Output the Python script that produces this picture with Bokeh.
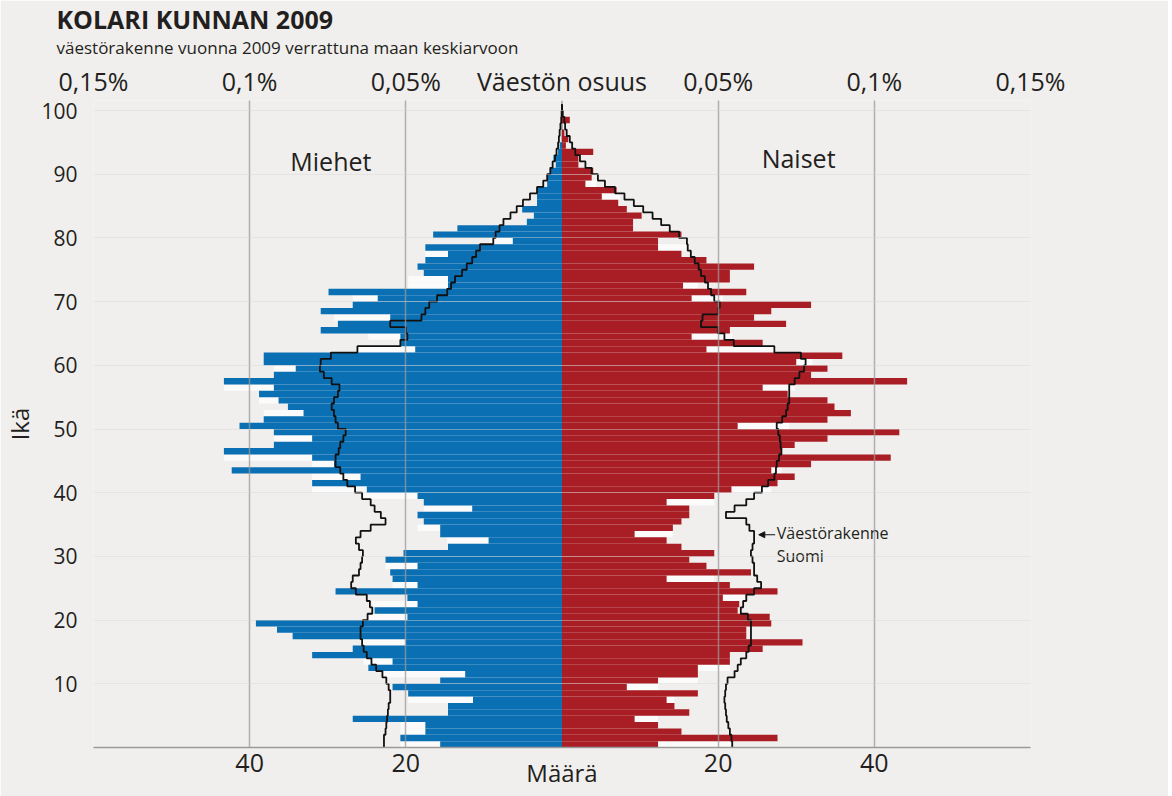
from bokeh.plotting import figure
from bokeh.models import FixedTicker, LinearAxis, Label, Arrow, NormalHead, Range1d, Title
from bokeh.embed import file_html
from bokeh.resources import INLINE

ika = list(range(101))

miehet = [15.6, 20.7, 17.5, 17.5, 26.8, 14.6, 14.6, 11.4, 19.7, 21.7,
          15.6, 12.4, 24.8, 21.7, 32.0, 26.8, 20.0, 34.5, 36.5, 39.2,
          19.8, 24.0, 18.5, 19.8, 29.0, 18.5, 21.7, 22.0, 18.5, 22.6,
          20.3, 14.6, 9.4, 15.6, 15.6, 17.7, 18.5, 11.5, 17.7, 18.5,
          25.0, 32.0, 25.8, 42.3, 29.2, 32.0, 43.3, 36.9, 32.0, 36.9,
          41.3, 38.2, 33.1, 35.1, 36.3, 38.8, 36.9, 43.3, 36.9, 34.1,
          38.2, 38.2, 18.8, 20.7, 20.7, 30.9, 28.7, 22.0, 30.9, 26.8,
          23.6, 29.9, 14.6, 14.6, 17.7, 18.5, 17.5, 14.6, 17.5, 6.3,
          16.5, 13.4, 4.5, 3.6, 5.1, 3.2, 3.2, 3.2, 1.9, 1.9,
          1.5, 0.8, 1.1, 0.5, 0.3, 0.0, 0.0, 0.0, 0.0, 0.0, 0.0]

naiset = [12.3, 27.6, 15.3, 12.3, 9.3, 16.3, 14.4, 13.4, 17.4, 8.3,
          12.3, 17.4, 17.4, 21.5, 21.5, 25.7, 30.8, 23.6, 23.6, 26.8,
          26.6, 22.5, 22.7, 20.6, 27.6, 21.5, 13.4, 24.2, 18.5, 16.3,
          19.5, 15.3, 13.4, 9.3, 14.2, 15.3, 16.3, 16.3, 13.4, 19.5,
          21.7, 27.6, 29.8, 26.8, 31.9, 42.1, 28.1, 29.8, 34.0, 43.2,
          22.5, 34.0, 37.0, 34.9, 34.0, 28.9, 25.7, 44.2, 31.9, 34.0,
          30.0, 35.9, 18.5, 25.7, 16.6, 21.5, 28.7, 24.6, 26.8, 31.9,
          16.6, 23.6, 15.5, 21.5, 21.5, 24.6, 18.5, 15.3, 12.3, 12.3,
          15.3, 9.1, 9.1, 10.2, 8.3, 7.2, 5.1, 7.0, 3.0, 3.8,
          4.0, 2.1, 2.1, 4.0, 0.5, 0.8, 0.3, 0.0, 1.0, 0.0, 0.0]

# vaaleat (valkoiset) palkit varsinaisten palkkien takana
miehet_vaalea = [20.7, 0, 20.7, 20.7, 0, 0, 0, 19.7, 0, 0,
                 0, 22.8, 0, 25.4, 0, 0, 25.8, 0, 0, 0,
                 25.0, 0, 24.3, 0, 0, 21.7, 0, 0, 22.6, 0,
                 0, 0, 14.7, 0, 18.5, 0, 0, 17.7, 0, 25.4,
                 32.0, 0, 32.0, 0, 32.0, 43.3, 0, 0, 36.9, 0,
                 0, 0, 38.2, 0, 38.8, 0, 43.3, 0, 0, 36.9,
                 0, 0, 26.2, 0, 24.8, 0, 0, 29.2, 0, 0,
                 26.8, 0, 19.7, 19.7, 0, 0, 0, 17.5, 0, 9.2,
                 0, 0, 0, 0, 0, 0, 0, 0, 0, 0,
                 0, 0, 0, 0, 0, 0, 0, 0, 0, 0, 0]

naiset_vaalea = [21.7, 0, 0, 0, 12.3, 0, 0, 14.4, 0, 12.3,
                 17.4, 0, 21.5, 0, 0, 0, 0, 0, 0, 0,
                 0, 0, 0, 23.4, 0, 0, 19.5, 0, 0, 0,
                 0, 0, 0, 14.2, 0, 0, 0, 0, 19.5, 0,
                 26.8, 0, 0, 28.1, 0, 0, 0, 0, 0, 0,
                 29.1, 0, 0, 0, 0, 0, 29.8, 0, 0, 0,
                 32.1, 0, 27.4, 0, 21.8, 0, 0, 0, 0, 0,
                 20.6, 0, 17.4, 0, 0, 0, 0, 0, 16.1, 0,
                 0, 0, 0, 0, 0, 0, 7.4, 0, 4.4, 0,
                 0, 0, 0, 0, 0, 0, 0, 0, 0, 0, 0]

suomi_miehet = [22.8, 22.8, 22.6, 22.5, 22.4, 22.3, 22.2, 22.0, 22.0, 22.2,
                22.5, 23.0, 23.8, 24.4, 25.0, 25.4, 25.6, 25.8, 25.8, 25.5,
                24.9, 24.3, 24.6, 25.0, 26.4, 27.0, 26.8, 26.0, 25.8, 25.6,
                25.5, 26.0, 26.4, 25.8, 24.5, 22.6, 23.2, 24.0, 24.5, 25.6,
                26.5, 27.5, 28.0, 28.4, 29.0, 29.0, 28.6, 28.4, 28.0, 27.7,
                28.7, 29.0, 29.2, 29.5, 29.2, 28.7, 28.5, 29.5, 30.5, 31.0,
                30.9, 29.6, 26.2, 20.7, 19.8, 20.0, 22.0, 18.0, 17.5, 17.0,
                16.0, 14.7, 14.2, 13.7, 12.8, 12.2, 11.5, 11.0, 10.5, 8.8,
                8.5, 8.0, 7.5, 6.6, 5.8, 5.0, 4.1, 3.2, 2.4, 1.9,
                1.5, 1.2, 0.9, 0.7, 0.5, 0.4, 0.3, 0.2, 0.1, 0.05, 0.0]

suomi_naiset = [21.8, 21.7, 21.5, 21.3, 21.1, 21.0, 20.9, 20.8, 20.9, 21.0,
                21.2, 22.1, 22.5, 22.9, 23.6, 23.9, 24.2, 24.2, 24.2, 24.2,
                23.8, 22.9, 23.2, 23.6, 24.6, 25.5, 25.0, 24.6, 24.6, 24.4,
                24.2, 24.4, 24.6, 24.6, 24.0, 23.6, 21.0, 22.1, 23.6, 24.6,
                25.6, 26.4, 27.2, 27.4, 27.5, 27.8, 28.1, 28.0, 27.9, 27.7,
                27.5, 28.2, 28.7, 28.9, 29.1, 29.1, 29.1, 29.8, 30.4, 31.0,
                31.2, 30.6, 27.2, 22.0, 20.8, 20.0, 17.8, 18.0, 20.0, 20.2,
                19.5, 19.1, 18.7, 18.3, 17.8, 17.5, 17.0, 16.5, 16.1, 16.0,
                15.0, 13.8, 12.7, 11.6, 10.4, 9.2, 8.0, 6.8, 5.5, 4.6,
                3.8, 3.0, 2.3, 1.7, 1.3, 1.0, 0.6, 0.4, 0.3, 0.1, 0.0]

ala_tikit = [-40, -20, 20, 40]
ala_nimet = ["40", "20", "20", "40"]
yla_tikit = [-60, -40, -20, 0, 20, 40, 60]
yla_nimet = ["0,15%", "0,1%", "0,05%", "Väestön osuus", "0,05%", "0,1%", "0,15%"]
ika_tikit = [10, 20, 30, 40, 50, 60, 70, 80, 90, 100]

SININEN = "#0b6fb4"
PUNAINEN = "#a91e24"
TAUSTA = "#f1efed"
VALKO = "#fbfbfb"
FONT = "Open Sans"
TEKSTI = "#231f20"

p = figure(width=1168, height=796, x_range=Range1d(-60, 60), y_range=Range1d(0, 101.57),
           output_backend="svg", toolbar_location=None,
           min_border_left=92, min_border_right=138, min_border_top=100, min_border_bottom=49,
           background_fill_color=TAUSTA, border_fill_color=TAUSTA)
p.outline_line_color = None

keski = [a + 0.5 for a in ika]

# keskiviiva
p.segment(x0=[0], y0=[0], x1=[0], y1=[101.57], line_color="#a0a0a0", line_width=1.5)

# vaaleat palkit
p.hbar(y=keski, height=1.0, left=[-v for v in miehet_vaalea], right=0, fill_color=VALKO, line_color=None)
p.hbar(y=keski, height=1.0, left=0, right=naiset_vaalea, fill_color=VALKO, line_color=None)

# palkit
p.hbar(y=keski, height=1.0, left=[-v for v in miehet], right=0, fill_color=SININEN, line_color=None)
p.hbar(y=keski, height=1.0, left=0, right=naiset, fill_color=PUNAINEN, line_color=None)


def porras(arvot, etumerkki):
    xs, ys = [], []
    for a, v in zip(ika, arvot):
        xs += [etumerkki * v, etumerkki * v]
        ys += [a, a + 1]
    return xs, ys


mx, my = porras(suomi_miehet, -1)
nx, ny = porras(suomi_naiset, 1)
p.line(mx, my, line_color="#111111", line_width=1.8)
p.line(nx, ny, line_color="#111111", line_width=1.8)

# ruudukko
p.xgrid.ticker = FixedTicker(ticks=[-60, -40, -20, 20, 40, 60])
p.xgrid.grid_line_color = "#9a9a9a"
p.xgrid.grid_line_width = 1.5
p.xgrid.grid_line_alpha = 0.75
p.xgrid.level = "overlay"
p.ygrid.ticker = FixedTicker(ticks=ika_tikit)
p.ygrid.grid_line_color = "#d8d8d8"
p.ygrid.grid_line_alpha = 0.45
p.ygrid.level = "overlay"

# alempi akseli
xa = p.xaxis[0]
xa.ticker = FixedTicker(ticks=ala_tikit)
xa.major_label_overrides = {t: s for t, s in zip(ala_tikit, ala_nimet)}
xa.major_label_text_font = FONT
xa.major_label_text_font_size = "25px"
xa.major_label_text_color = TEKSTI
xa.major_label_standoff = 6
xa.major_tick_line_color = None
xa.major_tick_out = 0
xa.major_tick_in = 0
xa.minor_tick_line_color = None
xa.minor_tick_out = 0
xa.axis_line_color = "#9a9a9a"
xa.axis_line_width = 1.5
xa.axis_label = "\nMäärä"
xa.axis_label_text_font = FONT
xa.axis_label_text_font_size = "24px"
xa.axis_label_text_font_style = "normal"
xa.axis_label_text_color = TEKSTI
xa.axis_label_standoff = -58

# vasen akseli
ya = p.yaxis[0]
ya.ticker = FixedTicker(ticks=ika_tikit)
ya.major_label_text_font = FONT
ya.major_label_text_font_size = "21px"
ya.major_label_text_color = TEKSTI
ya.major_label_standoff = 16
ya.major_tick_line_color = None
ya.major_tick_out = 0
ya.major_tick_in = 0
ya.minor_tick_line_color = None
ya.minor_tick_out = 0
ya.axis_line_color = None
ya.axis_label = "Ikä"
ya.axis_label_text_font = FONT
ya.axis_label_text_font_size = "24px"
ya.axis_label_text_font_style = "normal"
ya.axis_label_text_color = TEKSTI
ya.axis_label_standoff = 2

# ylempi akseli
ta = LinearAxis(ticker=FixedTicker(ticks=yla_tikit),
                major_label_overrides={t: s for t, s in zip(yla_tikit, yla_nimet)})
ta.major_label_text_font = FONT
ta.major_label_text_font_size = "25px"
ta.major_label_text_color = TEKSTI
ta.major_label_standoff = 3
ta.major_tick_line_color = None
ta.major_tick_out = 0
ta.major_tick_in = 0
ta.minor_tick_line_color = None
ta.minor_tick_out = 0
ta.axis_line_color = None
p.add_layout(ta, "above")

# otsikot
p.add_layout(Title(text="väestörakenne vuonna 2009 verrattuna maan keskiarvoon", align="left",
                   offset=-37, standoff=4, text_font=FONT, text_font_size="17px",
                   text_font_style="normal", text_color=TEKSTI), "above")
p.title.text = "KOLARI KUNNAN 2009"
p.title.align = "left"
p.title.offset = -37
p.title.standoff = -8
p.title.text_font = FONT
p.title.text_font_size = "25px"
p.title.text_font_style = "bold"
p.title.text_color = TEKSTI


def teksti(x, y, s, koko, **kw):
    p.add_layout(Label(x=x, y=y, text=s, text_font=FONT, text_font_size=koko, text_color=TEKSTI, **kw))


teksti(-29.6, 92.0, "Miehet", "25px", text_align="center", text_baseline="middle")
teksti(30.3, 92.5, "Naiset", "25px", text_align="center", text_baseline="middle")
teksti(27.5, 33.75, "Väestörakenne", "16px", text_align="left", text_baseline="middle")
teksti(27.5, 30.1, "Suomi", "16px", text_align="left", text_baseline="middle")

p.add_layout(Arrow(end=NormalHead(size=6, fill_color="#111111", line_color="#111111"),
                   x_start=27.3, y_start=33.4, x_end=25.2, y_end=33.4,
                   line_color="#111111", line_width=1.2))

open("out.html", "w").write(file_html(p, INLINE))
